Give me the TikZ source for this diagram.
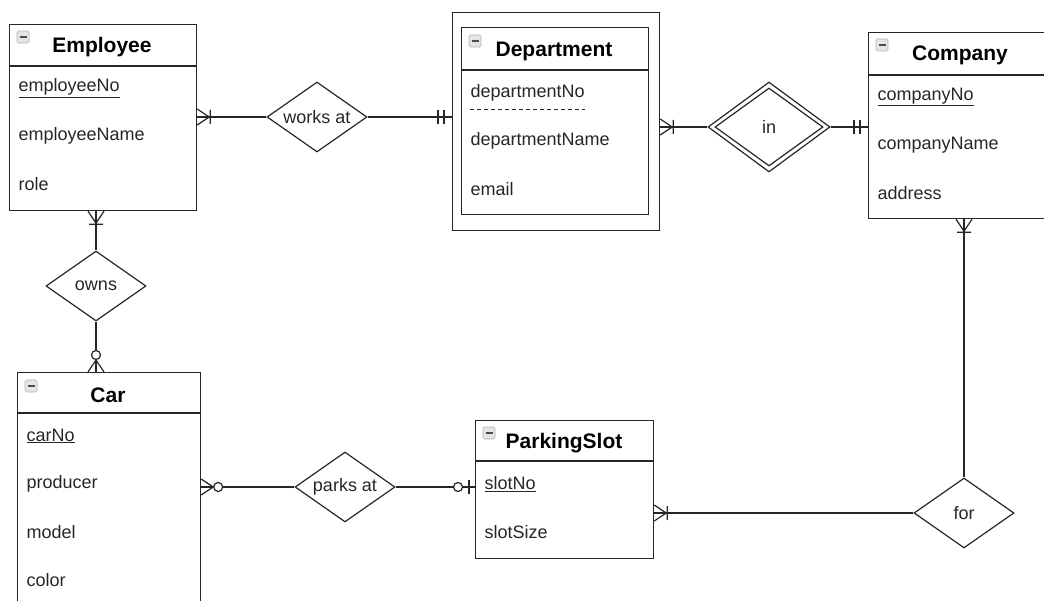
\documentclass[tikz,border=0pt]{standalone}
\usepackage{fontspec}
\setmainfont{Liberation Sans}
\usepackage{tikz}
\usetikzlibrary{shapes.geometric}

\tikzset{
  entity/.style={draw, rectangle, anchor=north west, inner sep=0pt},
  enttitle/.style={font=\fontsize{21}{25}\selectfont\bfseries, text=black, inner sep=0pt},
  attr/.style={font=\fontsize{18}{22}\selectfont, anchor=west, inner sep=0pt},
  rel/.style={draw, diamond, aspect=1.43, inner sep=0pt, font=\fontsize{18}{22}\selectfont,
    minimum width=100, minimum height=70},
  icon/.style={draw=gray!60, fill=gray!20, rounded corners=1.5pt, minimum size=12, inner sep=0pt,
    line width=0.6pt, path picture={\draw[line width=1.6pt, black!70]
      ([xshift=-3.5pt]path picture bounding box.center) -- ([xshift=3.5pt]path picture bounding box.center);}},
  onemany/.pic={\draw (0,8) -- (12,0) -- (0,-8) (13,-7) -- (13,7);},
  mandone/.pic={\draw (8,-7) -- (8,7) (14,-7) -- (14,7);},
  zeromany/.pic={\draw (0,8) -- (12,0) -- (0,-8); \draw[fill=white] (17,0) circle (4.5);},
  zeroone/.pic={\draw (6,-7) -- (6,7); \draw[fill=white] (17,0) circle (4.5);}
}

\begin{document}
\begin{tikzpicture}[x=1pt, y=-1pt, line width=1.2pt, color=black!85]
\useasboundingbox (0,0) rectangle (1044,601);
\clip (0,0) rectangle (1044,601);

% Employee
\node[entity, minimum width=187, minimum height=186] (employee) at (9,24) {};
\draw (9,66) -- (196,66);
\node[icon] (empicon) at (23,37) {};
\node[enttitle] (emptitle) at (102,47) {Employee};
\node[attr] (empno) at (18,88) {\underline{employeeNo}};
\node[attr] (empname) at (18,136) {employeeName};
\node[attr] (emprole) at (18,184) {role};

% Department (weak entity)
\node[entity, minimum width=207, minimum height=218] (dept) at (452,12) {};
\node[entity, minimum width=187, minimum height=187] (deptin) at (461,27) {};
\draw (461,70) -- (648,70);
\node[icon] (depticon) at (475,41) {};
\node[enttitle] (depttitle) at (554,51) {Department};
\node[attr] (deptno) at (470,93) {departmentNo};
\draw[line width=1pt, dash pattern=on 4pt off 3pt] (470,110) -- (585,110);
\node[attr] (deptname) at (470,141) {departmentName};
\node[attr] (deptmail) at (470,189) {email};

% Company
\node[entity, minimum width=184, minimum height=186] (company) at (868,32) {};
\draw (868,75) -- (1052,75);
\node[icon] (compicon) at (882,45) {};
\node[enttitle] (comptitle) at (960,55) {Company};
\node[attr] (compno) at (877,97) {\underline{companyNo}};
\node[attr] (compname) at (877,145) {companyName};
\node[attr] (compaddr) at (877,193) {address};

% Car
\node[entity, minimum width=183, minimum height=260] (car) at (17,372) {};
\draw (17,413) -- (200,413);
\node[icon] (caricon) at (31,386) {};
\node[enttitle] (cartitle) at (108,395) {Car};
\node[attr] (carno) at (26,436) {\underline{carNo}};
\node[attr] (carprod) at (26,484) {producer};
\node[attr] (carmodel) at (26,532) {model};
\node[attr] (carcolor) at (26,580) {color};

% ParkingSlot
\node[entity, minimum width=178, minimum height=138] (parking) at (475,420) {};
\draw (475,461) -- (653,461);
\node[icon] (parkicon) at (489,433) {};
\node[enttitle] (parktitle) at (564,443) {ParkingSlot};
\node[attr] (slotno) at (484,484) {\underline{slotNo}};
\node[attr] (slotsize) at (484,532) {slotSize};

% relationships
\node[rel] (worksat) at (317,117) {works at};
\node[rel, minimum width=122, minimum height=90, aspect=1.36] (inrel) at (769,127) {in};
\node[rel, minimum width=108, minimum height=78, aspect=1.36] (inrelin) at (769,127) {};
\node[rel] (owns) at (96,286) {owns};
\node[rel] (parks) at (345,487) {parks at};
\node[rel] (forrel) at (964,513) {for};

% connectors
\draw (worksat -| employee.east) -- (worksat.west);
\draw (worksat.east) -- (worksat -| dept.west);
\draw (inrel -| dept.east) -- (inrel.west);
\draw (inrel.east) -- (inrel -| company.west);
\draw (owns |- employee.south) -- (owns.north);
\draw (owns.south) -- (owns |- car.north);
\draw (parks -| car.east) -- (parks.west);
\draw (parks.east) -- (parks -| parking.west);
\draw (forrel.north) -- (forrel |- company.south);
\draw (forrel.west) -- (forrel -| parking.east);

% cardinalities
\pic at (worksat -| employee.east) {onemany};
\pic[rotate=180] at (worksat -| dept.west) {mandone};
\pic at (inrel -| dept.east) {onemany};
\pic[rotate=180] at (inrel -| company.west) {mandone};
\pic[rotate=-90] at (owns |- employee.south) {onemany};
\pic[rotate=90] at (owns |- car.north) {zeromany};
\pic at (parks -| car.east) {zeromany};
\pic[rotate=180] at (parks -| parking.west) {zeroone};
\pic[rotate=-90] at (forrel |- company.south) {onemany};
\pic at (forrel -| parking.east) {onemany};
\end{tikzpicture}
\end{document}
